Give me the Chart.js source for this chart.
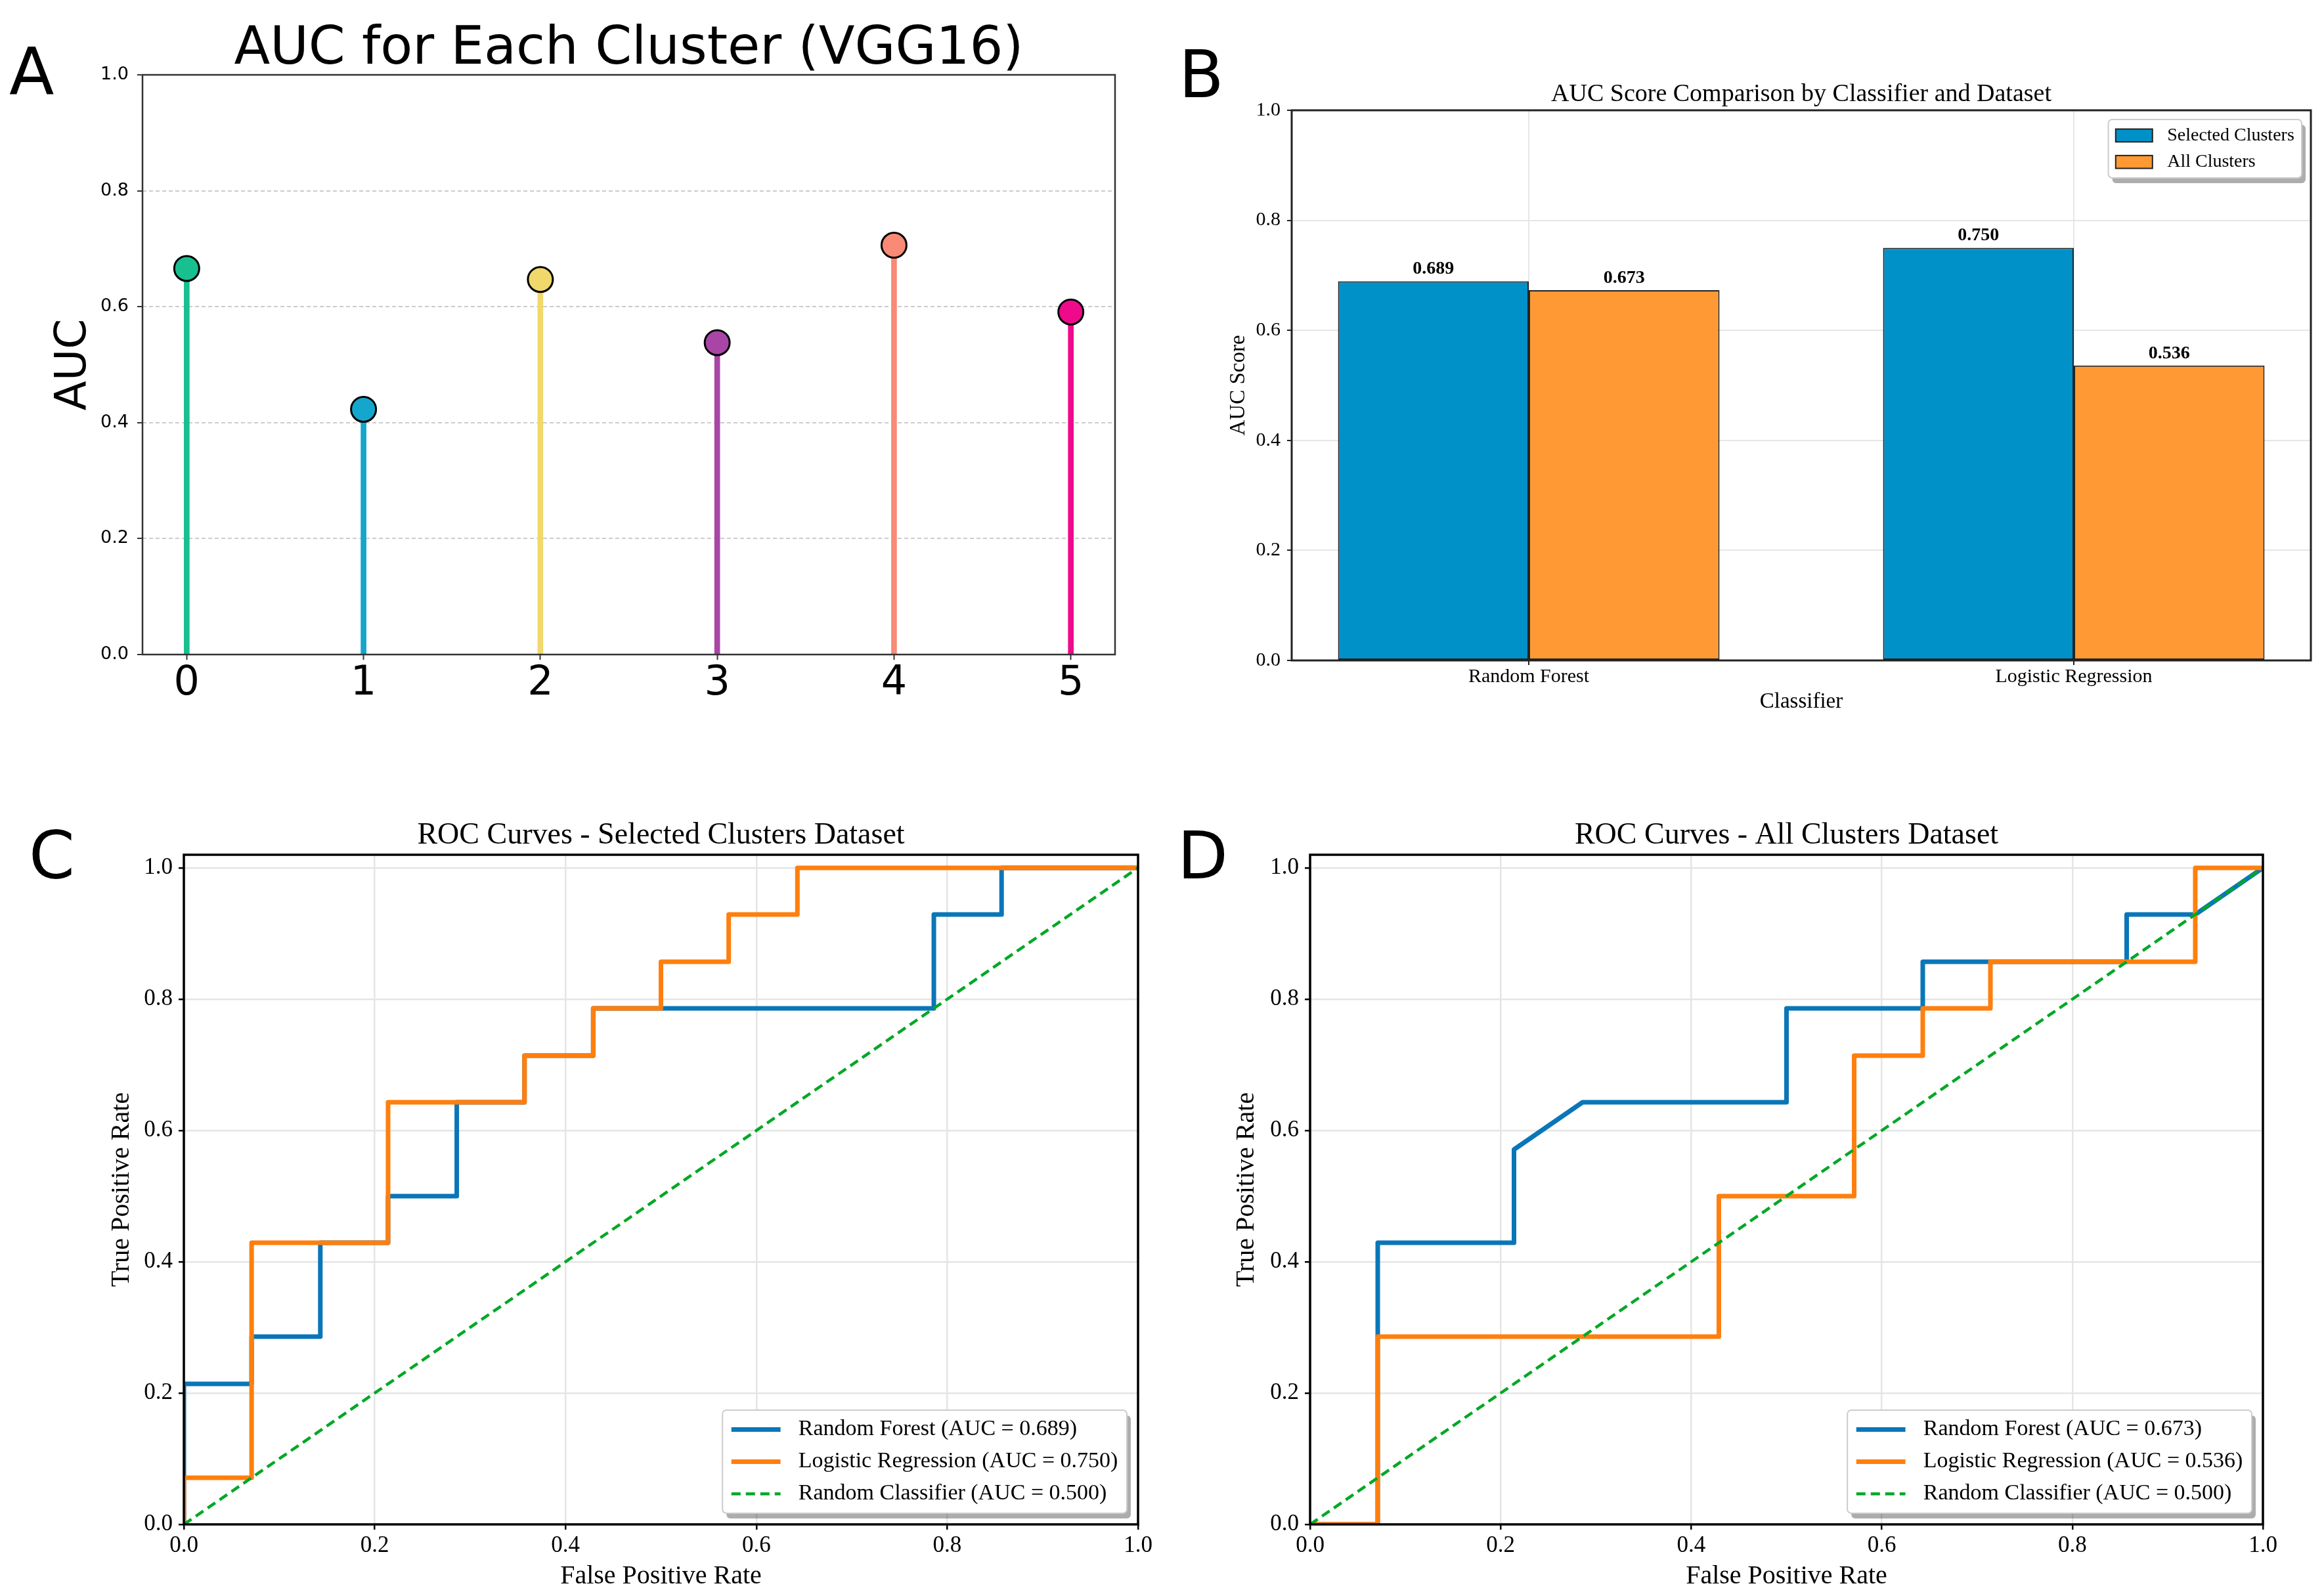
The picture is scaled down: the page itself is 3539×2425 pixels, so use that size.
<!DOCTYPE html>
<html>
<head>
<meta charset="utf-8">
<title>AUC panels</title>
<script src="https://cdn.jsdelivr.net/npm/chart.js@4.4.0/dist/chart.umd.min.js"></script>
<style>
  body { margin: 0; background: #fff; width: 3539px; height: 2425px; overflow: hidden; position: relative; }
  canvas { position: absolute; }
</style>
</head>
<body>
<canvas id="chartA" width="1770" height="1150" style="left:0;top:0"></canvas>
<canvas id="chartB" width="1769" height="1150" style="left:1770px;top:0"></canvas>
<canvas id="chartC" width="1770" height="1275" style="left:0;top:1150px"></canvas>
<canvas id="chartD" width="1769" height="1275" style="left:1770px;top:1150px"></canvas>
<script>
// ---- panel A: AUC per cluster ----
var clusterLabels = ['0', '1', '2', '3', '4', '5'];
var clusterAuc = [0.666, 0.423, 0.647, 0.538, 0.706, 0.591];
var aucTicks = [0.0, 0.2, 0.4, 0.6, 0.8, 1.0];

// ---- panel B: classifier comparison ----
var classifiers = ['Random Forest', 'Logistic Regression'];
var aucSelected = [0.689, 0.750];
var aucAll = [0.673, 0.536];

// ---- panels C / D: ROC curves ----
var rocTicks = [0.0, 0.2, 0.4, 0.6, 0.8, 1.0];
var randomAuc = 0.500;
var diagFpr = [0, 1];
var diagTpr = [0, 1];

var selRfFpr = [0, 0, 0.071, 0.071, 0.143, 0.143, 0.214, 0.214, 0.286, 0.286, 0.357, 0.357, 0.429, 0.429, 0.786, 0.786, 0.857, 0.857, 1];
var selRfTpr = [0, 0.214, 0.214, 0.286, 0.286, 0.429, 0.429, 0.5, 0.5, 0.643, 0.643, 0.714, 0.714, 0.786, 0.786, 0.929, 0.929, 1, 1];
var selLrFpr = [0, 0, 0.071, 0.071, 0.214, 0.214, 0.357, 0.357, 0.429, 0.429, 0.5, 0.5, 0.571, 0.571, 0.643, 0.643, 1];
var selLrTpr = [0, 0.071, 0.071, 0.429, 0.429, 0.643, 0.643, 0.714, 0.714, 0.786, 0.786, 0.857, 0.857, 0.929, 0.929, 1, 1];

var allRfFpr = [0, 0.071, 0.071, 0.214, 0.214, 0.286, 0.5, 0.5, 0.643, 0.643, 0.857, 0.857, 0.929, 1];
var allRfTpr = [0, 0, 0.429, 0.429, 0.571, 0.643, 0.643, 0.786, 0.786, 0.857, 0.857, 0.929, 0.929, 1];
var allLrFpr = [0, 0.071, 0.071, 0.429, 0.429, 0.571, 0.571, 0.643, 0.643, 0.714, 0.714, 0.929, 0.929, 1];
var allLrTpr = [0, 0, 0.286, 0.286, 0.5, 0.5, 0.714, 0.714, 0.786, 0.786, 0.857, 0.857, 1, 1];

// colours
var clusterColors = ['#19c08f', '#14a6cc', '#f0d86a', '#a845a6', '#f98a75', '#ef0a8c'];
var selColor = '#0091c8', allColor = '#ff9933';
var rfColor = '#0a76b8', lrColor = '#ff7f0e', diagColor = '#00a825';

var SERIF = '"Liberation Serif", "Times New Roman", serif';
var SANS = '"DejaVu Sans", sans-serif';

Chart.defaults.color = '#000';

function fixedWidth(w) { return function (scale) { scale.width = w; }; }
function fixedHeight(h) { return function (scale) { scale.height = h; }; }
function setTicks(vals) { return function (scale) { scale.ticks = vals.map(function (v) { return { value: v }; }); }; }
function toPoints(xs, ys) { return xs.map(function (x, i) { return { x: x, y: ys[i] }; }); }

// legend box drawn the way matplotlib lays it out (shadow, rounded frame)
function drawLegend(chart, lg) {
  var ctx = chart.ctx, ca = chart.chartArea, fs = lg.size;
  var pad = 0.4 * fs, gap = 0.5 * fs, rowH = 0.94 * fs, hl = lg.handle * fs, hgap = 0.8 * fs, edge = 0.5 * fs;
  var sets = chart.data.datasets;
  ctx.font = fs + 'px ' + SERIF;
  var tw = 0;
  sets.forEach(function (d) { tw = Math.max(tw, ctx.measureText(d.label).width); });
  var w = 2 * pad + hl + hgap + tw;
  var h = 2 * pad + sets.length * rowH + (sets.length - 1) * gap;
  var x = ca.right - edge - w;
  var y = lg.corner === 'top' ? ca.top + edge : ca.bottom - edge - h;

  ctx.fillStyle = 'rgba(0,0,0,0.32)';
  ctx.beginPath(); ctx.roundRect(x + 6, y + 8, w, h, 6); ctx.fill();
  ctx.fillStyle = '#fff'; ctx.strokeStyle = '#cccccc'; ctx.lineWidth = 2;
  ctx.beginPath(); ctx.roundRect(x, y, w, h, 6); ctx.fill(); ctx.stroke();

  sets.forEach(function (d, i) {
    var cy = y + pad + i * (rowH + gap) + rowH / 2;
    var hx = x + pad;
    if (lg.kind === 'patch') {
      var ph = 0.7 * fs;
      ctx.fillStyle = d.backgroundColor; ctx.fillRect(hx, cy - ph / 2, hl, ph);
      ctx.strokeStyle = d.borderColor; ctx.lineWidth = 2; ctx.strokeRect(hx, cy - ph / 2, hl, ph);
    } else {
      ctx.strokeStyle = d.borderColor; ctx.lineWidth = d.borderWidth;
      ctx.setLineDash(d.borderDash || []);
      ctx.beginPath(); ctx.moveTo(hx, cy); ctx.lineTo(hx + hl, cy); ctx.stroke();
      ctx.setLineDash([]);
    }
    ctx.fillStyle = '#000'; ctx.textAlign = 'left'; ctx.textBaseline = 'middle';
    ctx.fillText(d.label, hx + hl + hgap, cy);
  });
}

// frame, title, panel letter and legend
var panelDecor = {
  id: 'panelDecor',
  afterDraw: function (chart, args, opts) {
    var ctx = chart.ctx, ca = chart.chartArea;
    ctx.save();
    ctx.strokeStyle = opts.frameColor; ctx.lineWidth = opts.frameWidth;
    ctx.strokeRect(ca.left, ca.top, ca.right - ca.left, ca.bottom - ca.top);
    ctx.fillStyle = '#000'; ctx.textBaseline = 'alphabetic';
    ctx.textAlign = 'center'; ctx.font = opts.titleFont;
    ctx.fillText(opts.title, (ca.left + ca.right) / 2, opts.titleY);
    ctx.textAlign = 'left'; ctx.font = '100px ' + SANS;
    ctx.fillText(opts.letter, opts.letterX, opts.letterY);
    if (opts.legend) drawLegend(chart, opts.legend);
    ctx.restore();
  }
};

// bold value labels over the bars
var barValues = {
  id: 'barValues',
  afterDatasetsDraw: function (chart) {
    var ctx = chart.ctx, yScale = chart.scales.y;
    ctx.save();
    ctx.font = 'bold 28px ' + SERIF; ctx.fillStyle = '#000';
    ctx.textAlign = 'center'; ctx.textBaseline = 'bottom';
    chart.data.datasets.forEach(function (d, di) {
      chart.getDatasetMeta(di).data.forEach(function (bar, i) {
        var v = d.data[i].y;
        ctx.fillText(v.toFixed(3), bar.x, yScale.getPixelForValue(v + 0.01) + 4);
      });
    });
    ctx.restore();
  }
};

// ---------- A ----------
var clusterPts = toPoints(clusterLabels.map(function (l, i) { return i; }), clusterAuc);
new Chart(document.getElementById('chartA'), {
  type: 'bar',
  data: {
    datasets: [
      { type: 'scatter', data: clusterPts, pointRadius: 19, pointHoverRadius: 19, pointBorderWidth: 3,
        pointBorderColor: '#000', pointBackgroundColor: clusterColors, order: 0 },
      { type: 'bar', data: clusterPts, backgroundColor: clusterColors, barThickness: 8, borderWidth: 0, order: 1 }
    ]
  },
  options: {
    responsive: false, animation: false, devicePixelRatio: 1, events: [],
    layout: { padding: { left: 0, top: 114, right: 72, bottom: 0 } },
    plugins: {
      legend: { display: false }, tooltip: { enabled: false },
      panelDecor: { frameColor: '#333', frameWidth: 2.5, title: 'AUC for Each Cluster (VGG16)',
        titleFont: '80px ' + SANS, titleY: 97, letter: 'A', letterX: 14, letterY: 144 }
    },
    scales: {
      x: {
        type: 'linear', min: -0.25, max: 5.25, offset: false,
        afterBuildTicks: setTicks(clusterLabels.map(function (l, i) { return i; })),
        afterFit: fixedHeight(153),
        ticks: { callback: function (v) { return clusterLabels[v]; }, font: { family: SANS, size: 62, lineHeight: 1 },
          padding: 6, autoSkip: false, maxRotation: 0 },
        grid: { offset: false, drawOnChartArea: false, tickLength: 8, tickColor: '#333', tickWidth: 2 },
        border: { display: false }
      },
      y: {
        min: 0, max: 1,
        afterBuildTicks: setTicks(aucTicks),
        afterFit: fixedWidth(217),
        ticks: { callback: function (v) { return v.toFixed(1); }, font: { family: SANS, size: 27 }, padding: 13 },
        grid: { color: '#cccccc', lineWidth: 2, tickLength: 8, tickColor: '#333', tickWidth: 2 },
        border: { display: false, dash: [6, 4] },
        title: { display: true, text: 'AUC', font: { family: SANS, size: 66, lineHeight: 1 }, padding: { top: 80, bottom: 0 } }
      }
    }
  },
  plugins: [panelDecor]
});

// ---------- B ----------
var classIdx = classifiers.map(function (c, i) { return i; });
new Chart(document.getElementById('chartB'), {
  type: 'bar',
  data: {
    datasets: [
      { label: 'Selected Clusters', data: toPoints(classIdx, aucSelected), backgroundColor: selColor,
        borderColor: '#222', borderWidth: 2, borderSkipped: false },
      { label: 'All Clusters', data: toPoints(classIdx, aucAll), backgroundColor: allColor,
        borderColor: '#222', borderWidth: 2, borderSkipped: false }
    ]
  },
  options: {
    responsive: false, animation: false, devicePixelRatio: 1, events: [],
    layout: { padding: { left: 0, top: 168, right: 20, bottom: 0 } },
    datasets: { bar: { categoryPercentage: 0.7, barPercentage: 1 } },
    plugins: {
      legend: { display: false }, tooltip: { enabled: false },
      panelDecor: { frameColor: '#222', frameWidth: 3, title: 'AUC Score Comparison by Classifier and Dataset',
        titleFont: '38px ' + SERIF, titleY: 154, letter: 'B', letterX: 25, letterY: 148,
        legend: { size: 28, handle: 2, corner: 'top', kind: 'patch' } }
    },
    scales: {
      x: {
        type: 'linear', min: -0.435, max: 1.435, offset: false,
        afterBuildTicks: setTicks(classIdx),
        afterFit: fixedHeight(144),
        ticks: { callback: function (v) { return classifiers[v]; }, font: { family: SERIF, size: 30, lineHeight: 1 },
          padding: 3, autoSkip: false, maxRotation: 0 },
        grid: { offset: false, color: '#e6e6e6', lineWidth: 2, tickLength: 7, tickColor: '#222', tickWidth: 2 },
        border: { display: false },
        title: { display: true, text: 'Classifier', font: { family: SERIF, size: 33, lineHeight: 1 }, padding: { top: 0, bottom: 64 } }
      },
      y: {
        min: 0, max: 1,
        afterBuildTicks: setTicks(aucTicks),
        afterFit: fixedWidth(197),
        ticks: { callback: function (v) { return v.toFixed(1); }, font: { family: SERIF, size: 30 }, padding: 10 },
        grid: { color: '#e6e6e6', lineWidth: 2, tickLength: 7, tickColor: '#222', tickWidth: 2 },
        border: { display: false },
        title: { display: true, text: 'AUC Score', font: { family: SERIF, size: 33, lineHeight: 1 }, padding: { top: 100, bottom: 0 } }
      }
    }
  },
  plugins: [panelDecor, barValues]
});

// ---------- C / D ----------
function rocChart(id, rfFpr, rfTpr, lrFpr, lrTpr, auc, title, letter, layout) {
  return new Chart(document.getElementById(id), {
    type: 'scatter',
    data: {
      datasets: [
        { label: 'Random Forest (AUC = ' + auc[0].toFixed(3) + ')', data: toPoints(rfFpr, rfTpr),
          borderColor: rfColor, borderWidth: 7, order: 2 },
        { label: 'Logistic Regression (AUC = ' + auc[1].toFixed(3) + ')', data: toPoints(lrFpr, lrTpr),
          borderColor: lrColor, borderWidth: 7, order: 1 },
        { label: 'Random Classifier (AUC = ' + randomAuc.toFixed(3) + ')', data: toPoints(diagFpr, diagTpr),
          borderColor: diagColor, borderWidth: 4.5, borderDash: [14, 8], order: 0 }
      ]
    },
    options: {
      responsive: false, animation: false, devicePixelRatio: 1, events: [],
      layout: { padding: { left: 0, top: 152, right: layout.right, bottom: 0 } },
      datasets: { scatter: { showLine: true, pointRadius: 0, pointHoverRadius: 0, borderJoinStyle: 'round', borderCapStyle: 'butt' } },
      plugins: {
        legend: { display: false }, tooltip: { enabled: false },
        panelDecor: { frameColor: '#000', frameWidth: 3.5, title: title, titleFont: '46px ' + SERIF, titleY: 135,
          letter: letter, letterX: layout.letterX, letterY: 188,
          legend: { size: 34, handle: 2.2, corner: 'bottom', kind: 'line' } }
      },
      scales: {
        x: {
          type: 'linear', min: 0, max: 1,
          afterBuildTicks: setTicks(rocTicks),
          afterFit: fixedHeight(103),
          ticks: { callback: function (v) { return v.toFixed(1); }, font: { family: SERIF, size: 35, lineHeight: 1 },
            padding: 7, autoSkip: false, maxRotation: 0 },
          grid: { color: '#e5e5e5', lineWidth: 2.5, tickLength: 8, tickColor: '#000', tickWidth: 2.5 },
          border: { display: false },
          title: { display: true, text: 'False Positive Rate', font: { family: SERIF, size: 40, lineHeight: 1 }, padding: { top: 0, bottom: 4 } }
        },
        y: {
          min: 0, max: 1.02,
          afterBuildTicks: setTicks(rocTicks),
          afterFit: fixedWidth(layout.yWidth),
          ticks: { callback: function (v) { return v.toFixed(1); }, font: { family: SERIF, size: 35 }, padding: 9 },
          grid: { color: '#e5e5e5', lineWidth: 2.5, tickLength: 8, tickColor: '#000', tickWidth: 2.5 },
          border: { display: false },
          title: { display: true, text: 'True Positive Rate', font: { family: SERIF, size: 40, lineHeight: 1 }, padding: { top: layout.titlePad, bottom: 0 } }
        }
      }
    },
    plugins: [panelDecor]
  });
}

rocChart('chartC', selRfFpr, selRfTpr, selLrFpr, selLrTpr, aucSelected, 'ROC Curves - Selected Clusters Dataset', 'C',
  { right: 37, yWidth: 280, titlePad: 165, letterX: 44 });
rocChart('chartD', allRfFpr, allRfTpr, allLrFpr, allLrTpr, aucAll, 'ROC Curves - All Clusters Dataset', 'D',
  { right: 93, yWidth: 225, titlePad: 108, letterX: 23 });
</script>
</body>
</html>
